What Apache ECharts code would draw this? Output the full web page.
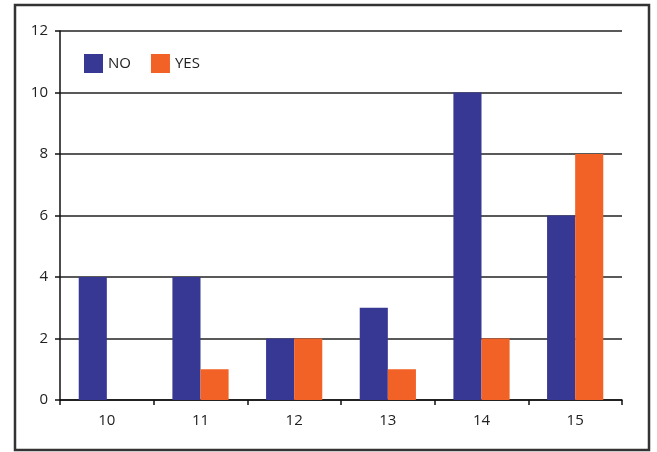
<!DOCTYPE html>
<html><head><meta charset="utf-8">
<script src="https://cdn.jsdelivr.net/npm/echarts@6/dist/echarts.min.js"></script>
<style>html,body{margin:0;padding:0;background:#fff}#c{width:657px;height:452px}</style>
</head><body><div id="c"></div>
<script>
const categories = ['10','11','12','13','14','15'];
const noValues = [4,4,2,3,10,6];
const yesValues = [0,1,2,1,2,8];
const chart = echarts.init(document.getElementById('c'));
const font = '"Open Sans", "Noto Sans", sans-serif';
chart.setOption({
  animation:false,
  graphic:[{type:'rect',shape:{x:15,y:5,width:634,height:445},style:{fill:'none',stroke:'#333',lineWidth:2.5},z:-1}],
  grid:{left:60,right:35,top:31,bottom:52},
  legend:{left:79,top:49,itemWidth:19,itemHeight:19,itemGap:20,icon:'rect',
    textStyle:{fontFamily:font,fontSize:15,color:'#222'},data:['NO','YES']},
  xAxis:{type:'category',data:categories,
    axisLine:{lineStyle:{color:'#111',width:1.5}},
    axisTick:{show:true,length:5,lineStyle:{color:'#111',width:1.5}},
    axisLabel:{margin:13,fontFamily:font,fontSize:15,color:'#222'}},
  yAxis:{type:'value',min:0,max:12,interval:2,
    axisLine:{show:true,lineStyle:{color:'#111',width:1.5}},
    axisTick:{show:true,length:5,lineStyle:{color:'#111',width:1.5}},
    axisLabel:{margin:12,fontFamily:font,fontSize:15,color:'#222'},
    splitLine:{lineStyle:{color:'#222',width:1.5}}},
  series:[
    {name:'NO',type:'bar',data:noValues,barGap:0,barCategoryGap:'40%',itemStyle:{color:'#373893'}},
    {name:'YES',type:'bar',data:yesValues,barGap:0,barCategoryGap:'40%',itemStyle:{color:'#f26125'}}
  ]
});
</script></body></html>
